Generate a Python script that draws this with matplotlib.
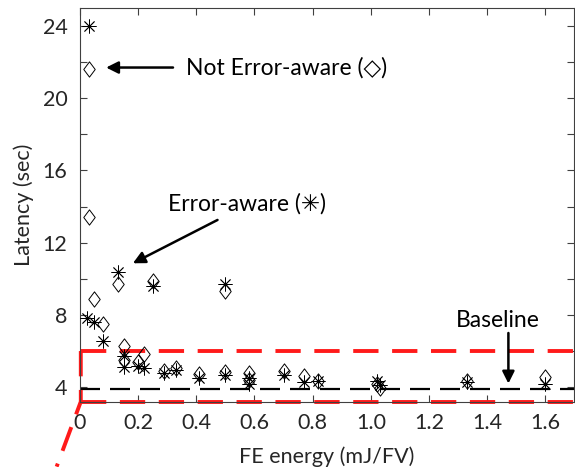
import matplotlib
matplotlib.use("Agg")
import matplotlib.pyplot as plt
from matplotlib.path import Path

plt.rcParams['font.family'] = ['Lato', 'DejaVu Sans']

# Not error-aware (diamonds)
ne_energy = [0.03, 0.03, 0.05, 0.08, 0.13, 0.15, 0.15, 0.20, 0.22, 0.25, 0.29, 0.33,
             0.41, 0.50, 0.50, 0.58, 0.58, 0.70, 0.77, 0.82, 1.02, 1.03, 1.33, 1.60]
ne_latency = [21.6, 13.4, 8.9, 7.5, 9.7, 6.3, 5.5, 5.4, 5.85, 9.9, 4.9, 5.05,
              4.75, 9.3, 4.85, 4.8, 4.4, 4.9, 4.6, 4.35, 4.2, 3.95, 4.35, 4.55]

# Error-aware (asterisks)
ea_energy = [0.03, 0.025, 0.05, 0.08, 0.13, 0.15, 0.15, 0.20, 0.22, 0.25, 0.29, 0.33,
             0.41, 0.50, 0.50, 0.58, 0.58, 0.70, 0.77, 0.82, 1.02, 1.03, 1.33, 1.60]
ea_latency = [24.0, 7.85, 7.6, 6.55, 10.4, 5.7, 5.1, 5.2, 5.05, 9.6, 4.8, 4.95,
              4.5, 9.7, 4.65, 4.5, 4.2, 4.65, 4.3, 4.35, 4.35, 4.1, 4.3, 4.2]

baseline = 3.9
box_top = 6.0

fig = plt.figure(figsize=(5.75, 4.67), dpi=100)
ax = fig.add_axes([0.139, 0.140, 0.860, 0.843])

diamond = Path([(0, 1), (0.75, 0), (0, -1), (-0.75, 0), (0, 1)],
               [Path.MOVETO, Path.LINETO, Path.LINETO, Path.LINETO, Path.CLOSEPOLY])

# reference lines
ax.plot([0, 1.7], [baseline, baseline], color='black', lw=1.6, dashes=(9, 4.5), zorder=1)

ax.plot(ne_energy, ne_latency, linestyle='none', marker=diamond, ms=11,
        mfc='none', mec='black', mew=0.7, zorder=3)
ax.plot(ea_energy, ea_latency, linestyle='none', marker=(8, 2, 0), ms=10,
        mec='black', mew=0.6, zorder=3)

ax.set_xlim(0, 1.7)
ax.set_ylim(3.2, 25)
ax.set_xticks([0, 0.2, 0.4, 0.6, 0.8, 1.0, 1.2, 1.4, 1.6])
ax.set_xticklabels(['0', '0.2', '0.4', '0.6', '0.8', '1.0', '1.2', '1.4', '1.6'])
ax.set_yticks([4, 8, 12, 16, 20, 24])
ax.set_yticks([6, 10, 14, 18, 22], minor=True)
ax.tick_params(which='both', direction='in', top=True, right=True, length=5,
               width=0.8, color='#404040', labelsize=15.5, labelcolor='#262626')
ax.tick_params(axis='y', pad=9)
ax.tick_params(axis='x', pad=8)
for s in ax.spines.values():
    s.set_color('#404040')
    s.set_linewidth(0.8)

ax.set_xlabel('FE energy (mJ/FV)', fontsize=15.5, color='#262626', labelpad=10)
ax.set_ylabel('Latency (sec)', fontsize=15.5, color='#262626', labelpad=6)

# red dashed highlight box, left edge runs out of the axes
red = dict(color='#ff1a1a', lw=2.8, dashes=(6.5, 3.5), clip_on=False, zorder=2)
ax.plot([0.003, 1.7], [box_top, box_top], **red)
ax.plot([0.003, 1.7], [3.2, 3.2], **red)
ax.plot([0.003, 0.003, -0.08], [box_top, 3.2, -0.4], **red)

arrow = dict(arrowstyle='-|>', color='black', lw=1.8, mutation_scale=18,
             shrinkA=0, shrinkB=0)
ax.annotate('', xy=(0.09, 21.7), xytext=(0.32, 21.7), arrowprops=arrow)
ax.text(0.365, 21.7, 'Not Error-aware (\u25c7)', fontsize=16.5, va='center', ha='left')

ax.annotate('', xy=(0.182, 10.86), xytext=(0.473, 13.26), arrowprops=arrow)
ax.text(0.574, 14.15, 'Error-aware (\u2733)', fontsize=16.5, va='center', ha='center')

ax.annotate('', xy=(1.473, 4.2), xytext=(1.473, 7.0), arrowprops=arrow)
ax.text(1.438, 7.7, 'Baseline', fontsize=16.5, va='center', ha='center')

fig.savefig('out.png', dpi=100)
